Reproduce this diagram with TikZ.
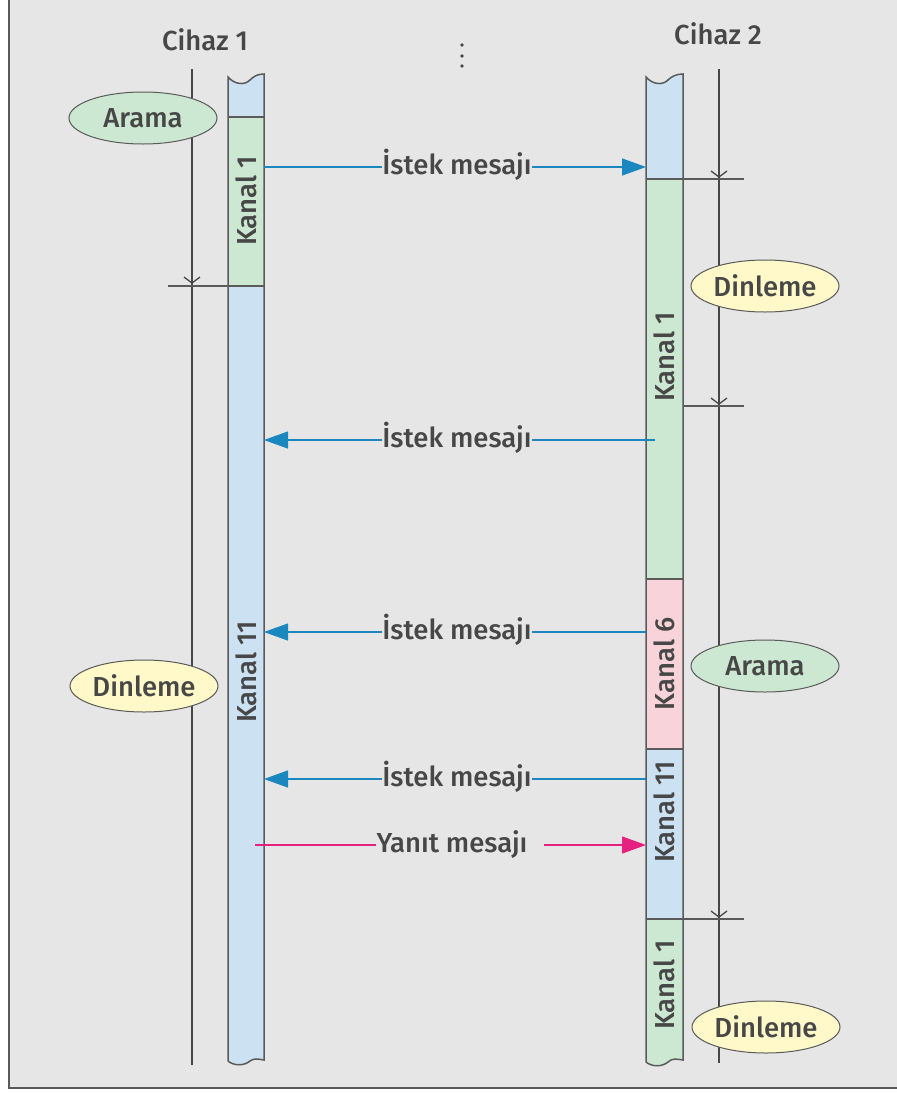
\documentclass[tikz,border=0pt]{standalone}
\usepackage{fontspec}
\setmainfont{Fira Sans}[UprightFont=* Medium]
\usetikzlibrary{shapes.geometric,arrows.meta}
\definecolor{bg}{HTML}{E6E6E6}
\definecolor{ink}{HTML}{474747}
\definecolor{edge}{HTML}{5A5A5A}
\definecolor{chblue}{HTML}{CCE1F2}
\definecolor{chgreen}{HTML}{CDE8D2}
\definecolor{chpink}{HTML}{F8D3DA}
\definecolor{lemon}{HTML}{FFF8C8}
\definecolor{msgblue}{HTML}{1A87BE}
\definecolor{msgpink}{HTML}{E5207E}
\begin{document}
\begin{tikzpicture}[x=1pt,y=-1pt,
  txt/.style={text=ink,font=\fontsize{27.5}{32}\selectfont,inner sep=0pt},
  barline/.style={draw=edge,line width=1.5pt},
  lifeline/.style={draw=ink,line width=1.5pt},
  tick/.style={draw=ink,line width=1.3pt},
  state/.style={ellipse,draw=edge,line width=1pt,minimum width=148pt,minimum height=52pt,
                inner sep=0pt,text=ink,font=\fontsize{27.5}{32}\selectfont},
  listen/.style={state,fill=lemon},
  search/.style={state,fill=chgreen},
  chan/.style={txt,rotate=90},
  msglbl/.style={txt,anchor=base},
  msg/.style={draw=msgblue,line width=1.3pt},
  msgtip/.style={-{Triangle[length=24pt,width=17pt]}},
  reply/.style={draw=msgpink,line width=1.3pt}]
\useasboundingbox (0,0) rectangle (897,1093);
% sheet
\fill[white] (0,0) rectangle (897,1093);
\fill[bg] (9,0) rectangle (897,1088);
\draw[edge,line width=2.5pt] (9,0) -- (9,1088) -- (897,1088);

% device titles and the continuation dots
\node[txt] (dev1) at (205,40) {Cihaz 1};
\node[txt] (dev2) at (718,34) {Cihaz 2};
\foreach \yy [count=\i] in {45,56,66}
  \fill[ink] (462,\yy) circle (1.8pt) coordinate (dot\i);

% time lines
\draw[lifeline] (192,69) -- (192,1065);
\draw[lifeline] (719,69) -- (719,1063);

% device 1 channel bar
\begin{scope}[xshift=228pt]
  \fill[chblue] (0,117) -- (0,77) .. controls (6,84) and (16,86) .. (22,80)
     .. controls (26,76) and (30,74) .. (36,74) -- (36,117) -- cycle;
  \fill[chgreen] (0,117) rectangle (36,286);
  \fill[chblue] (0,286) -- (36,286) -- (36,1060) .. controls (30,1059) and (26,1058) .. (22,1061)
     .. controls (16,1066) and (6,1066) .. (0,1061) -- cycle;
  \draw[barline] (0,1061) -- (0,77) .. controls (6,84) and (16,86) .. (22,80)
     .. controls (26,76) and (30,74) .. (36,74) -- (36,1060)
     .. controls (30,1059) and (26,1058) .. (22,1061) .. controls (16,1066) and (6,1066) .. (0,1061);
  \draw[barline] (0,117) -- (36,117);
\end{scope}
\draw[barline] (168,286) -- (264,286);
\draw[tick] (184,277) -- (192,283) -- (200,277);

% device 2 channel bar
\begin{scope}[xshift=646pt]
  \fill[chblue] (0,179) -- (0,77) .. controls (6,84) and (16,86) .. (22,80)
     .. controls (26,76) and (31,74) .. (37,74) -- (37,179) -- cycle;
  \fill[chgreen] (0,179) rectangle (37,579);
  \fill[chpink] (0,579) rectangle (37,749);
  \fill[chblue] (0,749) rectangle (37,919);
  \fill[chgreen] (0,919) -- (37,919) -- (37,1060) .. controls (31,1059) and (26,1058) .. (22,1062)
     .. controls (16,1067) and (6,1067) .. (0,1062) -- cycle;
  \draw[barline] (0,1062) -- (0,77) .. controls (6,84) and (16,86) .. (22,80)
     .. controls (26,76) and (31,74) .. (37,74) -- (37,1060)
     .. controls (31,1059) and (26,1058) .. (22,1062) .. controls (16,1067) and (6,1067) .. (0,1062);
  \draw[barline] (0,579) -- (37,579) (0,749) -- (37,749);
\end{scope}
\draw[barline] (646,179) -- (744,179);
\draw[barline] (683,406) -- (744,406);
\draw[barline] (646,919) -- (744,919);
\foreach \yy in {179,406,919}
  \draw[tick] (711,\yy-8) -- (719,\yy-2) -- (727,\yy-8);

% channel labels
\node[chan] (k1a) at (246,201) {Kanal 1};
\node[chan] (k11a) at (246,672) {Kanal 11};
\node[chan] (k1b) at (664,357) {Kanal 1};
\node[chan] (k6) at (664,664) {Kanal 6};
\node[chan] (k11b) at (664,812) {Kanal 11};
\node[chan] (k1c) at (664,985) {Kanal 1};

% device states
\node[search] (s1) at (143,118) {Arama};
\node[listen] (l1) at (144,686) {Dinleme};
\node[listen] (l2) at (765,286) {Dinleme};
\node[search] (s2) at (765,666) {Arama};
\node[listen] (l3) at (766,1027) {Dinleme};

% message ends
\coordinate (a1) at (264,167); \coordinate (b1) at (646,167);
\coordinate (a2) at (655,440); \coordinate (b2) at (264,440);
\coordinate (a3) at (646,632); \coordinate (b3) at (264,632);
\coordinate (a4) at (646,779); \coordinate (b4) at (264,779);
\coordinate (a5) at (255,845); \coordinate (b5) at (646,845);

% messages
\node[msglbl] (t1) at (457,174) {İstek mesajı};
\draw[msg] (a1) -- (a1 -| t1.west);
\draw[msg,msgtip] (a1 -| t1.east) -- (b1);

\node[msglbl] (t2) at (457,447) {İstek mesajı};
\draw[msg] (a2) -- (a2 -| t2.east);
\draw[msg,msgtip] (a2 -| t2.west) -- (b2);

\node[msglbl] (t3) at (457,639) {İstek mesajı};
\draw[msg] (a3) -- (a3 -| t3.east);
\draw[msg,msgtip] (a3 -| t3.west) -- (b3);

\node[msglbl] (t4) at (457,786) {İstek mesajı};
\draw[msg] (a4) -- (a4 -| t4.east);
\draw[msg,msgtip] (a4 -| t4.west) -- (b4);

\node[msglbl] (t5) at (452,852) {Yanıt mesajı};
\draw[reply] (a5) -- (a5 -| t5.west);
\draw[reply,msgtip] ([xshift=16pt]a5 -| t5.east) -- (b5);
\end{tikzpicture}
\end{document}
